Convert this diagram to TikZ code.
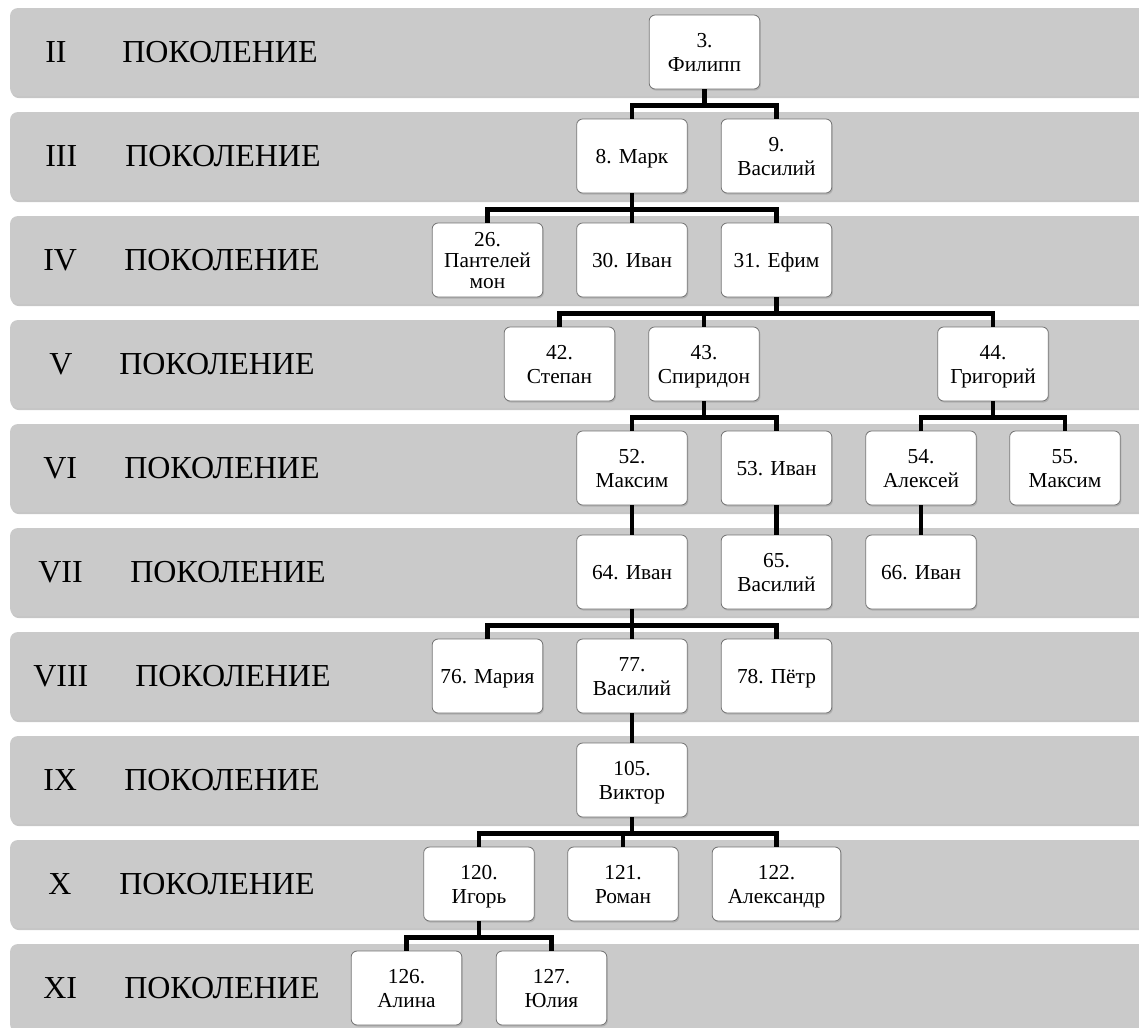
\documentclass[tikz,border=0pt]{standalone}
\usepackage{fontspec}
\setmainfont{Liberation Serif}
\usetikzlibrary{shadows,calc}
\definecolor{bandgray}{HTML}{CACACA}
\tikzset{
  band/.style={fill=bandgray, rounded corners=6pt,
    drop shadow={shadow xshift=0.8pt, shadow yshift=-1.6pt, opacity=0.45}},
  genlabel/.style={font=\fontsize{24}{28}\selectfont, inner sep=0pt, anchor=base west},
  person/.style={draw=black!55, line width=0.6pt, fill=white, rounded corners=4.5pt,
    minimum width=83pt, minimum height=55.5pt, align=center, inner sep=1pt,
    font=\fontsize{16}{17.5}\selectfont, text height=28.5pt, text depth=0pt,
    drop shadow={shadow xshift=0.8pt, shadow yshift=-1.2pt, opacity=0.35}},
  one/.style={text height=11pt},
  three/.style={font=\fontsize{16}{16}\selectfont, text height=43pt},
  link/.style={line width=3.6pt, black}
}
\begin{document}
\begin{tikzpicture}[x=0.75pt, y=-0.75pt]
    \useasboundingbox (0,0) rectangle (1139,1028);
    \clip (0,0) rectangle (1139,1028);

    % Generation bands
    \foreach \k in {0,...,9}
        \fill[band] (10,{8+104*\k}) rectangle (1160,{96+104*\k});

    % Generation labels
    \foreach \r/\a/\b [count=\k from 0] in {II/45/122, III/45/125, IV/43/124, V/49/119,
                                            VI/43/124, VII/38/130, VIII/33/135,
                                            IX/43/124, X/48/119, XI/43/124} {
        \node[genlabel] (r\k) at (\a,{62.5+104*\k}) {\r};
        \node[genlabel] (g\k) at (\b,{62.5+104*\k}) {ПОКОЛЕНИЕ};
    }

    % Persons
    \node[person] (n3)   at (704.5,52)  {3.\\Филипп};
    \node[person, one] (n8) at (632,156) {8. Марк};
    \node[person] (n9)   at (776.5,156) {9.\\Василий};
    \node[person, three] (n26) at (487.5,260) {26.\\Пантелей\\мон};
    \node[person, one] (n30) at (632,260)   {30. Иван};
    \node[person, one] (n31) at (776.5,260) {31. Ефим};
    \node[person] (n42)  at (559.5,364) {42.\\Степан};
    \node[person] (n43)  at (704,364)   {43.\\Спиридон};
    \node[person] (n44)  at (993,364)   {44.\\Григорий};
    \node[person] (n52)  at (632,468)   {52.\\Максим};
    \node[person, one] (n53) at (776.5,468) {53. Иван};
    \node[person] (n54)  at (921,468)   {54.\\Алексей};
    \node[person] (n55)  at (1065,468)  {55.\\Максим};
    \node[person, one] (n64) at (632,572)   {64. Иван};
    \node[person] (n65)  at (776.5,572) {65.\\Василий};
    \node[person, one] (n66) at (921,572)   {66. Иван};
    \node[person, one] (n76) at (487.5,676) {76. Мария};
    \node[person] (n77)  at (632,676)   {77.\\Василий};
    \node[person, one] (n78) at (776.5,676) {78. Пётр};
    \node[person] (n105) at (632,780)   {105.\\Виктор};
    \node[person] (n120) at (479,884)   {120.\\Игорь};
    \node[person] (n121) at (623,884)   {121.\\Роман};
    \node[person, minimum width=96.5pt] (n122) at (776.5,884) {122.\\Александр};
    \node[person] (n126) at (406.5,988) {126.\\Алина};
    \node[person] (n127) at (551.5,988) {127.\\Юлия};

    % Junctions below parents
    \foreach \p in {3,8,31,43,44,64,105,120}
        \coordinate (j\p) at ($(n\p.south)+(0,16)$);

    % Family links
    \draw[link] (n3.south) -- (j3);
    \draw[link] (n8.north) |- (j3) -| (n9.north);

    \draw[link] (n8.south) -- (j8);
    \draw[link] (n26.north) |- (j8) -| (n31.north);
    \draw[link] (n30.north) -- (n30.north |- j8);

    \draw[link] (n31.south) -- (j31);
    \draw[link] (n42.north) |- (j31) -| (n44.north);
    \draw[link] (n43.north) -- (n43.north |- j31);

    \draw[link] (n43.south) -- (j43);
    \draw[link] (n52.north) |- (j43) -| (n53.north);

    \draw[link] (n44.south) -- (j44);
    \draw[link] (n54.north) |- (j44) -| (n55.north);

    \draw[link] (n52.south) -- (n64.north);
    \draw[link] (n53.south) -- (n65.north);
    \draw[link] (n54.south) -- (n66.north);

    \draw[link] (n64.south) -- (j64);
    \draw[link] (n76.north) |- (j64) -| (n78.north);
    \draw[link] (n77.north) -- (n77.north |- j64);

    \draw[link] (n77.south) -- (n105.north);

    \draw[link] (n105.south) -- (j105);
    \draw[link] (n120.north) |- (j105) -| (n122.north);
    \draw[link] (n121.north) -- (n121.north |- j105);

    \draw[link] (n120.south) -- (j120);
    \draw[link] (n126.north) |- (j120) -| (n127.north);
\end{tikzpicture}
\end{document}
